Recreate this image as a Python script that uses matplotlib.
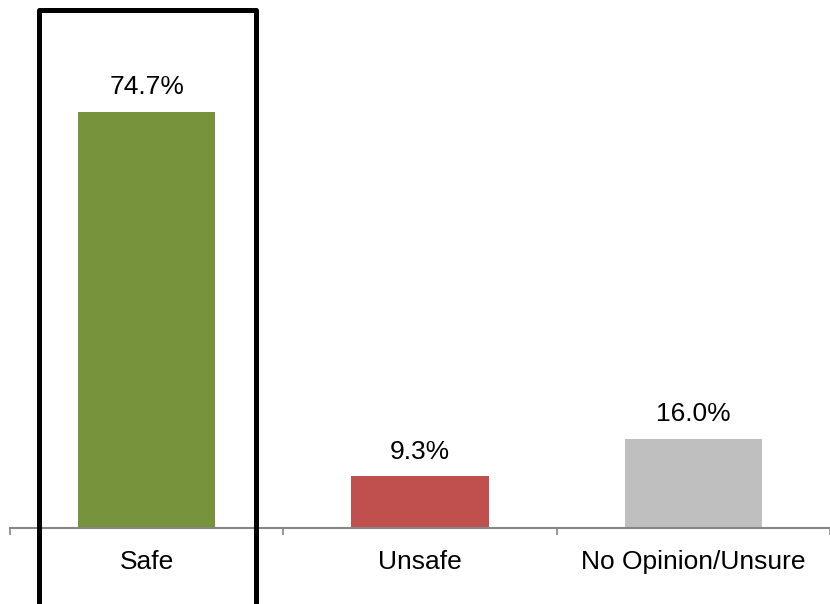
import matplotlib.pyplot as plt
from matplotlib.patches import Rectangle

plt.rcParams['font.family'] = ['Liberation Sans', 'DejaVu Sans']

# data
categories = ["Safe", "Unsafe", "No Opinion/Unsure"]
values = [74.7, 9.3, 16.0]
colors = ["#77933C", "#C0504D", "#BFBFBF"]

W, H = 830, 604
fig = plt.figure(figsize=(W / 100, H / 100), dpi=100)
ax = fig.add_axes([10 / W, 1 - 528 / H, 820 / W, 528 / H])

x = range(len(categories))
bars = ax.bar(x, values, width=0.503, color=colors, zorder=2)

for b, v in zip(bars, values):
    ax.annotate(f"{v:.1f}%", (b.get_x() + b.get_width() / 2, v),
                xytext=(0, 9), textcoords="offset points",
                ha="center", va="bottom", fontsize=19)

ax.set_xlim(-0.5, 2.444)
ax.set_ylim(0, 94.8)
ax.set_yticks([])
ax.set_xticks([-0.5, 0.5, 1.5, 2.5])
ax.set_xticklabels([])
ax.set_xticks(list(x), minor=True)
ax.set_xticklabels(categories, minor=True, fontsize=19)
ax.tick_params(axis="x", which="major", length=5, width=1.2, color="#868686", direction="out")
ax.tick_params(axis="x", which="minor", length=0, pad=16)
for s in ["top", "right", "left"]:
    ax.spines[s].set_visible(False)
ax.spines["bottom"].set_color("#868686")
ax.spines["bottom"].set_linewidth(1.5)

# highlight box around "Safe"
fig.patches.append(Rectangle((38.5 / W, -0.05), 217 / W, 1.05 - 9.5 / H,
                             transform=fig.transFigure, fill=False,
                             edgecolor="black", linewidth=3.6,
                             joinstyle="round", zorder=5))

fig.savefig("out.png", dpi=100)
